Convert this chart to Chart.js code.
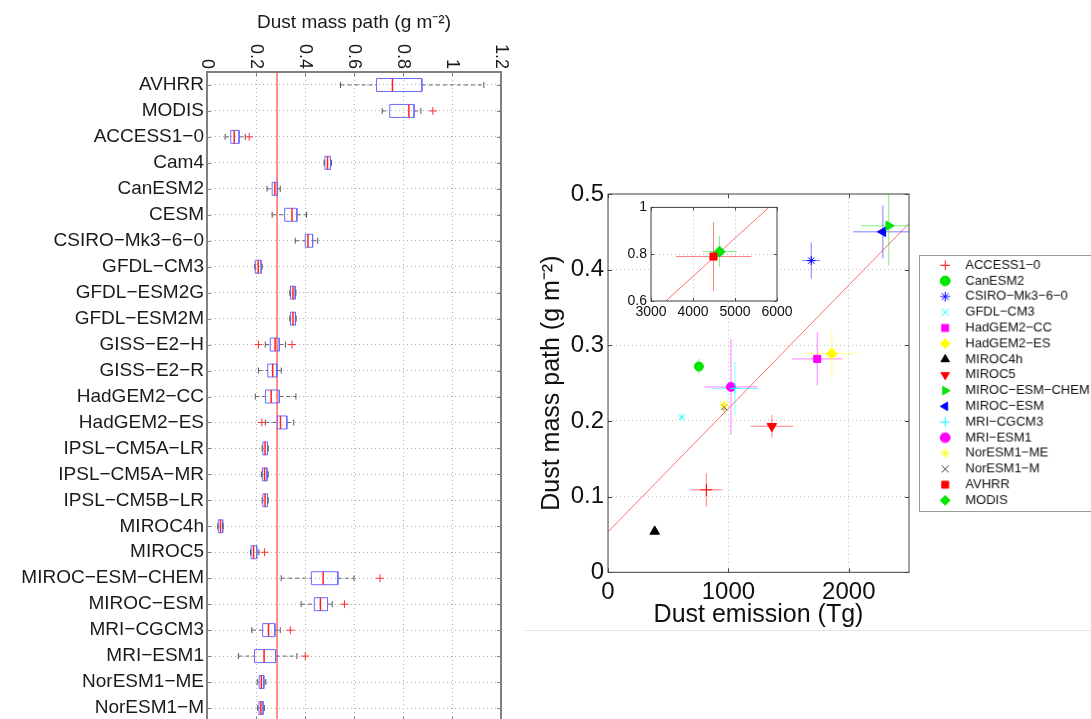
<!DOCTYPE html>
<html>
<head>
<meta charset="utf-8">
<title>Dust mass path</title>
<script src="https://cdn.jsdelivr.net/npm/chart.js@4.4.1/dist/chart.umd.min.js"></script>
<style>
  html, body { margin: 0; padding: 0; background: #fff; }
  body { width: 1091px; height: 719px; position: relative; overflow: hidden; }
  canvas { position: absolute; }
  #boxChart { left: 0; top: 0; }
  #scatterChart { left: 530px; top: 160px; }
  #insetChart { left: 610px; top: 195px; }
  #legendChart { left: 919px; top: 255px; border: 1px solid #9a9a9a; }
  .rule { position: absolute; left: 525px; top: 630px; width: 566px; height: 1px; background: #e4e4e4; }
</style>
</head>
<body>
<canvas id="boxChart" width="520" height="740"></canvas>
<div class="rule"></div>
<canvas id="scatterChart" width="390" height="475"></canvas>
<canvas id="insetChart" width="190" height="130"></canvas>
<canvas id="legendChart" width="400" height="257"></canvas>
<script>
/* global Chart */
const FONT = "'Liberation Sans', Arial, Helvetica, sans-serif";
Chart.defaults.font.family = FONT;
Chart.defaults.color = '#1a1a1a';
Chart.defaults.animation = false;

// left panel: spread of dust mass path per dataset (box plots)
const boxNames = ['AVHRR', 'MODIS', 'ACCESS1−0', 'Cam4', 'CanESM2', 'CESM', 'CSIRO−Mk3−6−0', 'GFDL−CM3',
  'GFDL−ESM2G', 'GFDL−ESM2M', 'GISS−E2−H', 'GISS−E2−R', 'HadGEM2−CC', 'HadGEM2−ES', 'IPSL−CM5A−LR',
  'IPSL−CM5A−MR', 'IPSL−CM5B−LR', 'MIROC4h', 'MIROC5', 'MIROC−ESM−CHEM', 'MIROC−ESM', 'MRI−CGCM3',
  'MRI−ESM1', 'NorESM1−ME', 'NorESM1−M'];
const whiskerLow = [0.545, 0.715, 0.074, 0.478, 0.245, 0.266, 0.360, 0.195, 0.338, 0.338, 0.238, 0.210, 0.197,
  0.238, 0.225, 0.222, 0.225, 0.044, 0.178, 0.303, 0.384, 0.183, 0.128, 0.205, 0.207];
const quart1 = [0.692, 0.746, 0.097, 0.481, 0.266, 0.317, 0.401, 0.197, 0.341, 0.341, 0.258, 0.248, 0.239,
  0.287, 0.228, 0.226, 0.228, 0.046, 0.180, 0.426, 0.438, 0.227, 0.194, 0.213, 0.212];
const medians = [0.757, 0.824, 0.111, 0.492, 0.277, 0.347, 0.412, 0.209, 0.351, 0.351, 0.278, 0.268, 0.262,
  0.300, 0.237, 0.235, 0.237, 0.055, 0.190, 0.474, 0.463, 0.251, 0.233, 0.222, 0.220];
const quart3 = [0.877, 0.845, 0.131, 0.504, 0.288, 0.367, 0.431, 0.221, 0.360, 0.361, 0.295, 0.285, 0.295,
  0.326, 0.247, 0.245, 0.247, 0.064, 0.203, 0.534, 0.492, 0.277, 0.280, 0.232, 0.229];
const whiskerHigh = [1.13, 0.873, 0.156, 0.508, 0.299, 0.406, 0.452, 0.225, 0.363, 0.364, 0.320, 0.303, 0.363,
  0.354, 0.250, 0.250, 0.250, 0.066, 0.212, 0.600, 0.511, 0.299, 0.367, 0.240, 0.234];
const outliers = [[], [0.922], [0.172], [], [], [], [], [], [], [], [0.210, 0.347], [], [], [0.224], [], [], [],
  [], [0.235], [0.706], [0.561], [0.340], [0.401], [], []];
const modelMean = 0.286;
const boxTicks = [0, 0.2, 0.4, 0.6, 0.8, 1, 1.2];

// right panel: dust emission vs dust mass path
const scatterNames = ['ACCESS1−0', 'CanESM2', 'CSIRO−Mk3−6−0', 'GFDL−CM3', 'HadGEM2−CC', 'HadGEM2−ES',
  'MIROC4h', 'MIROC5', 'MIROC−ESM−CHEM', 'MIROC−ESM', 'MRI−CGCM3', 'MRI−ESM1', 'NorESM1−ME', 'NorESM1−M',
  'AVHRR', 'MODIS'];
const obsNames = ['AVHRR', 'MODIS'];
const emission = [817, 755, 1688, 612, 1738, 1859, 388, 1361, 2332, 2283, 1054, 1021, 963, 965, 4488, 4632];
const emissionErr = [132, 12, 75, 12, 207, 221, 0, 177, 228, 246, 193, 218, 8, 12, 900, 408];
const massPath = [0.109, 0.272, 0.412, 0.205, 0.282, 0.289, 0.054, 0.193, 0.458, 0.450, 0.243, 0.245, 0.221,
  0.218, 0.790, 0.811];
const massPathErr = [0.022, 0.010, 0.024, 0.004, 0.035, 0.031, 0, 0.015, 0.053, 0.035, 0.035, 0.063, 0.010,
  0.006, 0.147, 0.066];
const fitIntercept = 0.0535;
const fitSlope = 0.000163;
const emissionTicks = [0, 1000, 2000];
const massTicks = [0, 0.1, 0.2, 0.3, 0.4, 0.5];
const insetEmissionTicks = [3000, 4000, 5000, 6000];
const insetMassTicks = [0.6, 0.8, 1];

// marker styles, same order as scatterNames
const markerColors = ['#ff0000', '#00e600', '#0000ff', '#00ffff', '#ff00ff', '#ffff00', '#000000', '#ff0000',
  '#00e600', '#0000ff', '#00ffff', '#ff00ff', '#ffff00', '#333333', '#ff0000', '#00e600'];
const markerStyles = ['cross', 'circle', 'star', 'crossRot', 'rect', 'rectRot', 'triangle', 'triangle', 'triangle',
  'triangle', 'cross', 'circle', 'star', 'crossRot', 'rect', 'rectRot'];
const markerRotation = [0, 0, 0, 0, 0, 0, 0, 180, 90, 270, 0, 0, 0, 0, 0, 0];
const markerRadius = [6, 4.5, 4.5, 4, 5, 5.5, 5.5, 5.5, 5.5, 5.5, 5, 4.5, 4.5, 4, 5, 5.5];

function fade(hex) {
  const n = parseInt(hex.slice(1), 16);
  return `rgba(${n >> 16}, ${(n >> 8) & 255}, ${n & 255}, 0.5)`;
}

const fixedTicks = values => scale => { scale.ticks = values.map(value => ({ value })); };
const plainLabel = v => String(+(+v).toFixed(2));

// box with ticks pointing inwards, like the original axes
const frame = (color, width, tick) => ({
  id: 'frame',
  afterDraw(chart) {
    const { ctx, chartArea: a, scales: { x, y } } = chart;
    ctx.save();
    ctx.strokeStyle = color;
    ctx.lineWidth = width;
    ctx.strokeRect(a.left, a.top, a.right - a.left, a.bottom - a.top);
    ctx.lineWidth = 1;
    ctx.beginPath();
    x.ticks.forEach(t => {
      const px = Math.round(x.getPixelForValue(t.value)) + 0.5;
      ctx.moveTo(px, a.top); ctx.lineTo(px, a.top + tick);
      ctx.moveTo(px, a.bottom); ctx.lineTo(px, a.bottom - tick);
    });
    y.ticks.forEach(t => {
      const py = Math.round(y.getPixelForValue(t.value)) + 0.5;
      ctx.moveTo(a.left, py); ctx.lineTo(a.left + tick, py);
      ctx.moveTo(a.right, py); ctx.lineTo(a.right - tick, py);
    });
    ctx.stroke();
    ctx.restore();
  }
});

// x labels of the box plot sit on top, turned a quarter clockwise
const topTickLabels = {
  id: 'topTickLabels',
  afterDraw(chart) {
    const { ctx, chartArea, scales: { x } } = chart;
    ctx.save();
    ctx.font = `18px ${FONT}`;
    ctx.fillStyle = '#1a1a1a';
    ctx.textAlign = 'right';
    ctx.textBaseline = 'middle';
    x.ticks.forEach(t => {
      ctx.save();
      ctx.translate(x.getPixelForValue(t.value), chartArea.top - 3);
      ctx.rotate(Math.PI / 2);
      ctx.fillText(plainLabel(t.value), 0, 0);
      ctx.restore();
    });
    ctx.restore();
  }
};

const insetBackground = {
  id: 'insetBackground',
  beforeDraw(chart) {
    const { ctx, chartArea: a } = chart;
    ctx.save();
    ctx.fillStyle = '#fff';
    ctx.fillRect(a.left, a.top, a.right - a.left, a.bottom - a.top);
    ctx.restore();
  }
};

// ---- box plot ----
const boxHalf = 0.25;
const boxPath = [];
const whiskerPath = [];
const whiskerCaps = [];
const medianMarks = [];
const outlierMarks = [];
boxNames.forEach((name, i) => {
  const y = i + 1;
  boxPath.push({ x: quart1[i], y: y - boxHalf }, { x: quart3[i], y: y - boxHalf }, { x: quart3[i], y: y + boxHalf },
    { x: quart1[i], y: y + boxHalf }, { x: quart1[i], y: y - boxHalf }, { x: null, y: null });
  whiskerPath.push({ x: whiskerLow[i], y }, { x: quart1[i], y }, { x: null, y: null },
    { x: quart3[i], y }, { x: whiskerHigh[i], y }, { x: null, y: null });
  whiskerCaps.push({ x: whiskerLow[i], y }, { x: whiskerHigh[i], y });
  medianMarks.push({ x: medians[i], y });
  outliers[i].forEach(v => outlierMarks.push({ x: v, y }));
});

new Chart(document.getElementById('boxChart'), {
  type: 'scatter',
  data: {
    datasets: [
      { data: medianMarks, pointStyle: 'line', pointRotation: 90, pointRadius: 6.5, borderColor: '#ff2020', borderWidth: 1.5 },
      { data: outlierMarks, pointStyle: 'cross', pointRadius: 4, borderColor: '#ff3030', borderWidth: 1 },
      { data: whiskerCaps, pointStyle: 'line', pointRotation: 90, pointRadius: 3, borderColor: '#555', borderWidth: 1 },
      { data: boxPath, showLine: true, pointRadius: 0, borderColor: '#6b6bff', borderWidth: 1 },
      { data: whiskerPath, showLine: true, pointRadius: 0, borderColor: '#666', borderWidth: 1, borderDash: [4, 3] },
      { data: [{ x: modelMean, y: 0.5 }, { x: modelMean, y: boxNames.length + 0.5 }], showLine: true, pointRadius: 0,
        borderColor: '#ff6666', borderWidth: 1.5 }
    ]
  },
  options: {
    responsive: false,
    events: [],
    layout: { padding: { left: 0, top: 0, right: 19, bottom: 19 } },
    plugins: { legend: { display: false }, tooltip: { enabled: false } },
    scales: {
      x: {
        type: 'linear', position: 'top', min: 0, max: 1.2,
        afterBuildTicks: fixedTicks(boxTicks),
        ticks: { display: false },
        grid: { color: '#b0b0b0', drawTicks: false },
        border: { display: false, dash: [1, 3] },
        title: { display: true, text: 'Dust mass path (g m⁻²)', font: { size: 19 }, color: '#1a1a1a', padding: { top: 11, bottom: 0 } },
        afterFit: s => { s.height = 72; }
      },
      y: {
        type: 'linear', reverse: true, min: 0.5, max: boxNames.length + 0.5,
        afterBuildTicks: fixedTicks(boxNames.map((n, i) => i + 1)),
        ticks: { autoSkip: false, callback: v => boxNames[v - 1], font: { size: 19 }, color: '#1a1a1a', padding: 3 },
        grid: { color: '#b0b0b0', drawTicks: false },
        border: { display: false, dash: [1, 3] },
        afterFit: s => { s.width = 207; }
      }
    }
  },
  plugins: [frame('#808080', 2, 4), topTickLabels]
});

// ---- scatter with error bars ----
const markerSet = i => ({
  label: scatterNames[i],
  data: [{ x: emission[i], y: massPath[i] }],
  pointStyle: markerStyles[i],
  pointRotation: markerRotation[i],
  pointRadius: markerRadius[i],
  backgroundColor: markerColors[i],
  borderColor: markerColors[i],
  borderWidth: 1
});
const errorSet = i => {
  const x = emission[i];
  const y = massPath[i];
  return {
    data: [{ x: x - emissionErr[i], y }, { x: x + emissionErr[i], y }, { x: null, y: null },
      { x, y: y - massPathErr[i] }, { x, y: y + massPathErr[i] }],
    showLine: true, pointRadius: 0, borderColor: fade(markerColors[i]), borderWidth: 1
  };
};
const fitSet = (x0, x1) => ({
  data: [x0, x1].map(x => ({ x, y: fitIntercept + fitSlope * x })),
  showLine: true, pointRadius: 0, borderColor: '#ff7070', borderWidth: 1
});

const allIdx = scatterNames.map((n, i) => i);
const modelIdx = allIdx.filter(i => !obsNames.includes(scatterNames[i]));
const obsIdx = allIdx.filter(i => obsNames.includes(scatterNames[i]));

const gridDotted = { grid: { color: '#c4c4c4', drawTicks: false }, border: { display: false, dash: [1, 3] } };

new Chart(document.getElementById('scatterChart'), {
  type: 'scatter',
  data: { datasets: [...modelIdx.map(markerSet), ...modelIdx.map(errorSet), fitSet(0, 2500)] },
  options: {
    responsive: false,
    events: [],
    layout: { padding: { left: 0, top: 34, right: 11, bottom: 0 } },
    plugins: { legend: { display: false }, tooltip: { enabled: false } },
    scales: {
      x: {
        min: 0, max: 2500, ...gridDotted,
        afterBuildTicks: fixedTicks(emissionTicks),
        ticks: { callback: plainLabel, font: { size: 24 }, color: '#111', padding: 6, maxRotation: 0 },
        title: { display: true, text: 'Dust emission (Tg)', font: { size: 25 }, color: '#111', padding: { top: 0, bottom: 5 } },
        afterFit: s => { s.height = 62.7; }
      },
      y: {
        min: 0, max: 0.5, ...gridDotted,
        afterBuildTicks: fixedTicks(massTicks),
        ticks: { callback: plainLabel, font: { size: 24 }, color: '#111', padding: 4 },
        title: { display: true, text: 'Dust mass path (g m⁻²)', font: { size: 25 }, color: '#111', padding: { top: 7, bottom: 0 } },
        afterFit: s => { s.width = 78; }
      }
    }
  },
  plugins: [frame('#444', 1, 4)]
});

new Chart(document.getElementById('insetChart'), {
  type: 'scatter',
  data: { datasets: [...obsIdx.map(markerSet), ...obsIdx.map(errorSet), fitSet(3000, 6000)] },
  options: {
    responsive: false,
    events: [],
    layout: { padding: { left: 0, top: 12, right: 23, bottom: 0 } },
    plugins: { legend: { display: false }, tooltip: { enabled: false } },
    scales: {
      x: {
        min: 3000, max: 6000, ...gridDotted,
        afterBuildTicks: fixedTicks(insetEmissionTicks),
        ticks: { callback: plainLabel, font: { size: 14 }, color: '#111', padding: 3, maxRotation: 0 },
        afterFit: s => { s.height = 24; }
      },
      y: {
        min: 0.6, max: 1, ...gridDotted,
        afterBuildTicks: fixedTicks(insetMassTicks),
        ticks: { callback: plainLabel, font: { size: 14 }, color: '#111', padding: 4 },
        afterFit: s => { s.width = 41; }
      }
    }
  },
  plugins: [insetBackground, frame('#444', 1, 3)]
});

// legend in its own box
new Chart(document.getElementById('legendChart'), {
  type: 'scatter',
  data: { datasets: [] },
  options: {
    responsive: false,
    events: [],
    layout: { padding: { left: 16, top: 0, right: 0, bottom: 0 } },
    scales: { x: { display: false }, y: { display: false } },
    plugins: {
      tooltip: { enabled: false },
      legend: {
        position: 'left',
        align: 'start',
        labels: {
          usePointStyle: true,
          boxWidth: 13,
          boxHeight: 7,
          padding: 2.8,
          textAlign: 'left',
          font: { size: 13 },
          generateLabels: () => scatterNames.map((name, i) => ({
            text: '  ' + name,
            fillStyle: markerColors[i],
            strokeStyle: markerColors[i],
            fontColor: '#111',
            pointStyle: markerStyles[i],
            rotation: markerRotation[i],
            lineWidth: 1,
            hidden: false
          }))
        }
      }
    }
  }
});
</script>
</body>
</html>
